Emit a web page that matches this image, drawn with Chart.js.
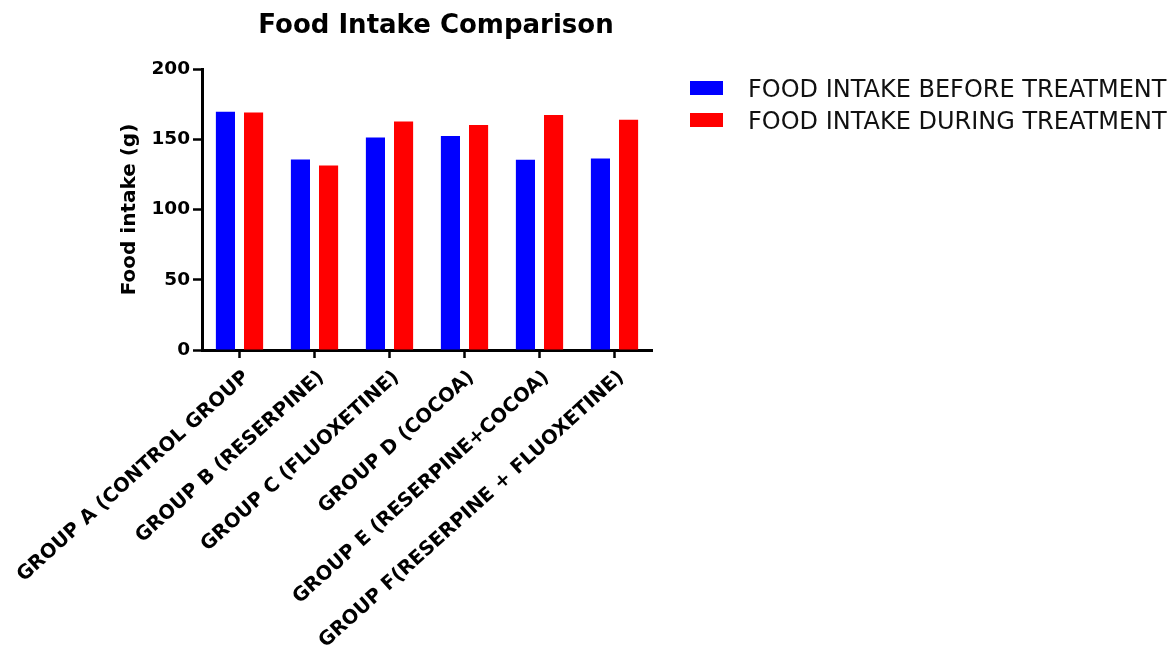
<!DOCTYPE html>
<html>
<head>
<meta charset="utf-8">
<script src="https://cdn.jsdelivr.net/npm/chart.js@4.4.1/dist/chart.umd.min.js"></script>
<style>
  html, body { margin: 0; padding: 0; background: #ffffff; }
  #wrap { position: relative; width: 1172px; height: 652px; }
</style>
</head>
<body>
<div id="wrap"><canvas id="chart"></canvas></div>
<script>
// Groups and measured food intake (g)
const categories = [
  'GROUP A (CONTROL GROUP',
  'GROUP B (RESERPINE)',
  'GROUP C (FLUOXETINE)',
  'GROUP D (COCOA)',
  'GROUP E (RESERPINE+COCOA)',
  'GROUP F(RESERPINE + FLUOXETINE)'
];
const beforeTreatment = [169.6, 135.6, 151.3, 152.3, 135.4, 136.3];
const duringTreatment = [169.1, 131.4, 162.7, 160.1, 167.2, 163.9];
const seriesNames = ['FOOD INTAKE BEFORE TREATMENT', 'FOOD INTAKE DURING TREATMENT'];
const yTickValues = [0, 50, 100, 150, 200];
const chartTitle = 'Food Intake Comparison';
const yAxisTitle = 'Food intake (g)';

const FONT = "'DejaVu Sans', sans-serif";

// Draws the heading and the colour key beside the plot
const headingAndKey = {
  id: 'headingAndKey',
  afterDraw(chart) {
    const ctx = chart.ctx;
    ctx.save();
    ctx.fillStyle = '#000';
    ctx.font = "bold 26px " + FONT;
    ctx.textAlign = 'center';
    ctx.textBaseline = 'alphabetic';
    ctx.fillText(chartTitle, 436, 33);

    ctx.font = "24px " + FONT;
    ctx.textAlign = 'left';
    chart.data.datasets.forEach((ds, i) => {
      const top = 81 + i * 32;
      ctx.fillStyle = ds.backgroundColor;
      ctx.fillRect(690, top, 33, 14);
      ctx.fillStyle = '#111';
      ctx.fillText(ds.label, 748, top + 15.5);
    });
    ctx.restore();
  }
};

new Chart(document.getElementById('chart'), {
  type: 'bar',
  data: {
    labels: categories,
    datasets: [
      { label: seriesNames[0], data: beforeTreatment, backgroundColor: '#0000ff', borderWidth: 0 },
      { label: seriesNames[1], data: duringTreatment, backgroundColor: '#ff0000', borderWidth: 0 }
    ]
  },
  options: {
    responsive: true,
    maintainAspectRatio: false,
    animation: false,
    devicePixelRatio: 1,
    categoryPercentage: 0.75,
    barPercentage: 0.68,
    layout: { padding: { top: 69, right: 520, bottom: 0, left: 0 } },
    plugins: {
      legend: { display: false },
      title: { display: false },
      tooltip: { enabled: false }
    },
    scales: {
      x: {
        offset: true,
        grid: {
          offset: false,
          drawOnChartArea: false,
          drawTicks: true,
          tickLength: 8,
          tickColor: '#000',
          tickWidth: 2.5
        },
        border: { display: true, color: '#000', width: 3 },
        ticks: {
          autoSkip: false,
          minRotation: 42,
          maxRotation: 42,
          padding: 8,
          labelOffset: 7,
          color: '#000',
          font: { family: FONT, size: 19.5, weight: 'bold' }
        },
        afterFit(scale) {
          scale.height = 302;
          scale.paddingLeft = 0;
          scale.paddingRight = 0;
        }
      },
      y: {
        min: 0,
        max: 200,
        grid: {
          drawOnChartArea: false,
          drawTicks: true,
          tickLength: 9,
          tickColor: '#000',
          tickWidth: 2.5
        },
        border: { display: true, color: '#000', width: 3 },
        ticks: {
          padding: 3,
          color: '#000',
          font: { family: FONT, size: 18.5, weight: 'bold' }
        },
        afterBuildTicks(scale) {
          scale.ticks = yTickValues.map(v => ({ value: v }));
        },
        title: {
          display: true,
          text: yAxisTitle,
          color: '#000',
          padding: { top: 118, bottom: 0 },
          font: { family: FONT, size: 20, weight: 'bold' }
        },
        afterFit(scale) {
          scale.width = 202;
        }
      }
    }
  },
  plugins: [headingAndKey]
});
</script>
</body>
</html>
